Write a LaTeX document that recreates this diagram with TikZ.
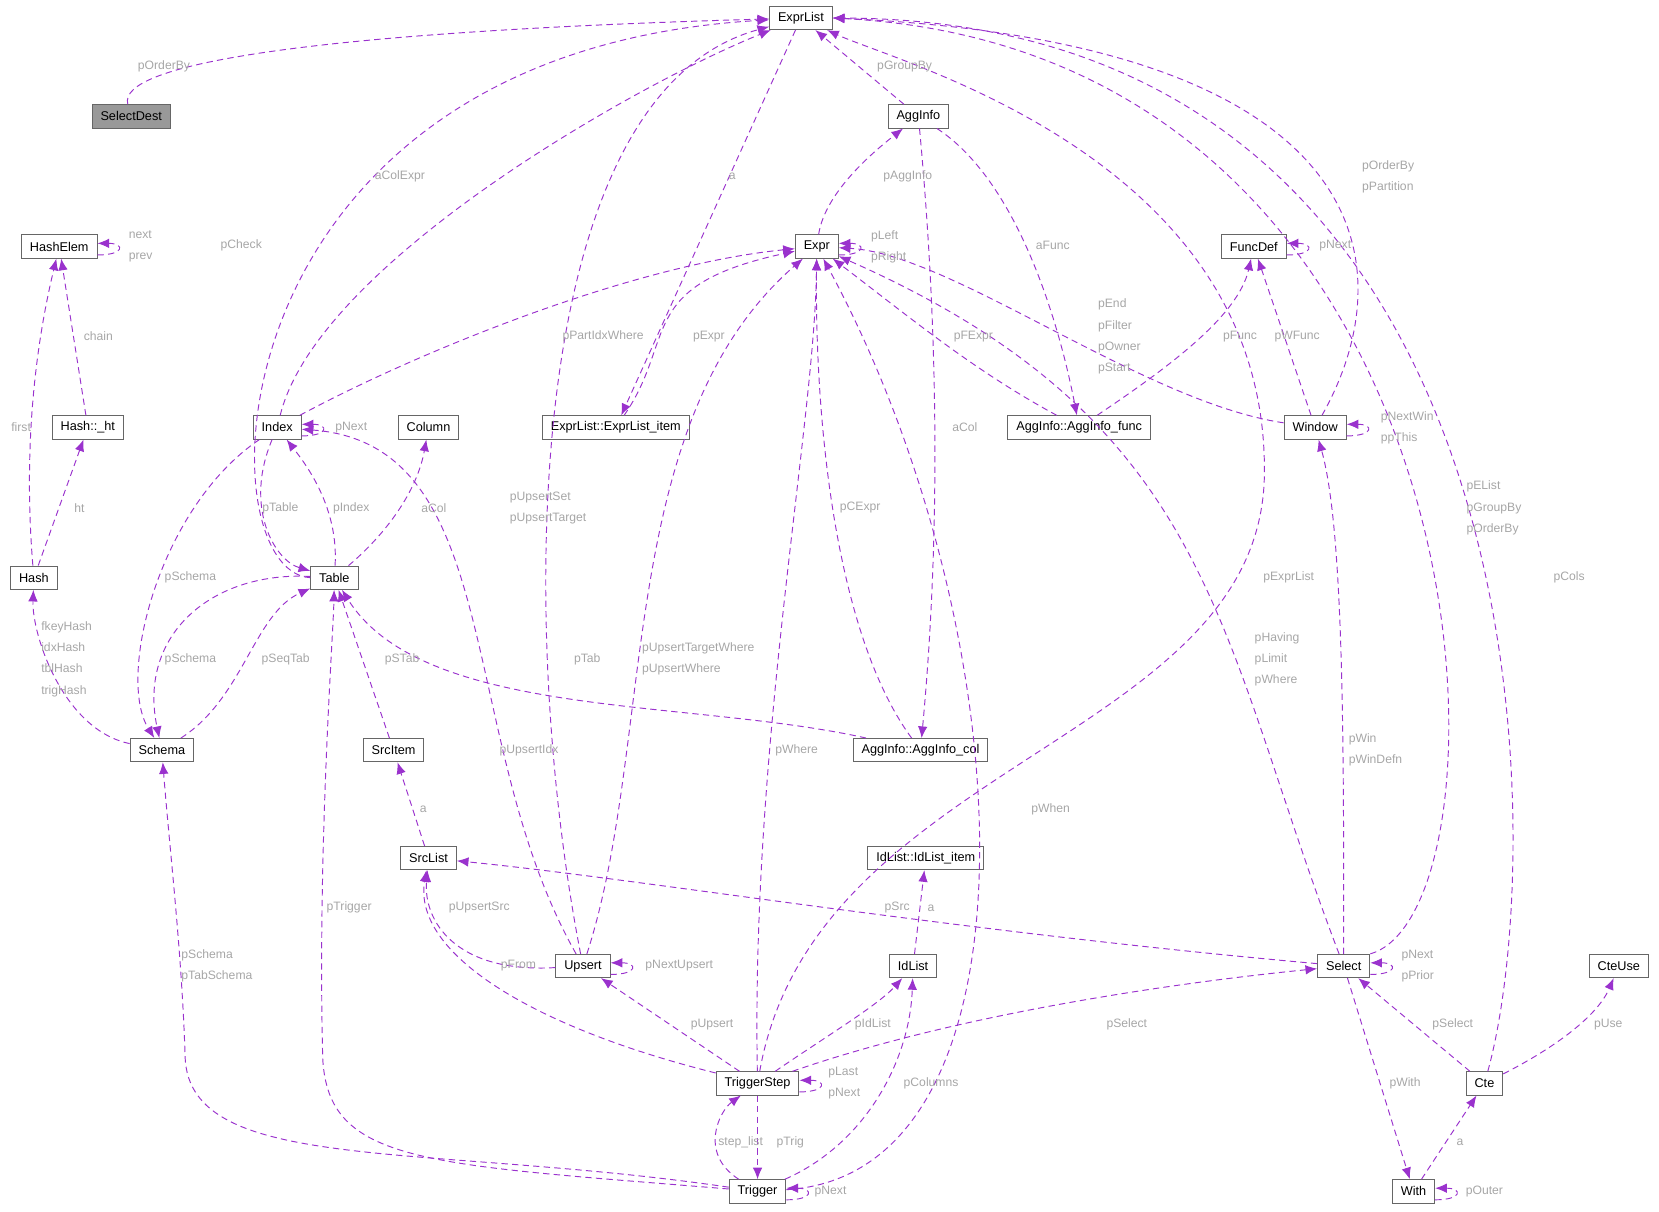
\documentclass[tikz,border=0pt]{standalone}
\usepackage{fontspec}
\setmainfont{Liberation Sans}
\usetikzlibrary{arrows.meta}
\definecolor{edgecol}{HTML}{9A32CD}
\tikzset{
  cls/.style={draw=black!60, line width=0.9pt, fill=white, minimum height=22pt, inner xsep=8pt, inner ysep=2pt, font=\fontsize{12}{14}\selectfont},
  e/.style={draw=edgecol, dashed, dash pattern=on 6pt off 4pt, line width=0.9pt, -{Latex[length=11pt,width=9pt]}},
  lbl/.style={text=black!35, font=\fontsize{11.5}{20}\selectfont, align=left, inner sep=0pt}
}
\newcommand\selfloop[1]{\draw[e] ([yshift=-8pt]#1.east) .. controls +(26,0) and +(26,0) .. ([yshift=3pt]#1.east);}
\begin{document}
\begin{tikzpicture}[x=1pt,y=-1pt]
  \useasboundingbox (0,0) rectangle (1568,1145);
  % classes
  \node[cls] (ExprList) at (757,17) {ExprList};
  \node[cls, fill=black!40] (SelectDest) at (124,110) {SelectDest};
  \node[cls] (AggInfo) at (868,110) {AggInfo};
  \node[cls] (HashElem) at (56,233) {HashElem};
  \node[cls] (Expr) at (772,233) {Expr};
  \node[cls] (FuncDef) at (1185,233) {FuncDef};
  \node[cls] (HashHt) at (83,404) {Hash::\_ht};
  \node[cls] (Index) at (262,404) {Index};
  \node[cls] (Column) at (405,404) {Column};
  \node[cls] (ExprItem) at (582,404) {ExprList::ExprList\_item};
  \node[cls] (AggFunc) at (1020,404) {AggInfo::AggInfo\_func};
  \node[cls] (Window) at (1243,404) {Window};
  \node[cls] (Hash) at (32,546) {Hash};
  \node[cls] (Table) at (316,546) {Table};
  \node[cls] (Schema) at (153,709) {Schema};
  \node[cls] (SrcItem) at (372,709) {SrcItem};
  \node[cls] (AggCol) at (870,709) {AggInfo::AggInfo\_col};
  \node[cls] (SrcList) at (405,811) {SrcList};
  \node[cls] (IdItem) at (875,811) {IdList::IdList\_item};
  \node[cls] (Upsert) at (551,913) {Upsert};
  \node[cls] (IdList) at (863,913) {IdList};
  \node[cls] (Select) at (1270,913) {Select};
  \node[cls] (CteUse) at (1530,913) {CteUse};
  \node[cls] (TriggerStep) at (716,1024) {TriggerStep};
  \node[cls] (Cte) at (1403,1024) {Cte};
  \node[cls] (Trigger) at (716,1126) {Trigger};
  \node[cls] (With) at (1336,1126) {With};

  % to ExprList
  \draw[e] (SelectDest) .. controls (110,60) and (300,30) .. (ExprList);
  \draw[e] (AggInfo) -- (ExprList);
  \draw[e] (Index) .. controls (300,250) and (600,80) .. (ExprList);
  \draw[e] (Table.west) .. controls (190,540) and (195,50) .. (ExprList);
  \draw[e] (Upsert) .. controls (490,600) and (490,90) .. (ExprList);
  \draw[e] (Select.north east) .. controls (1440,860) and (1420,50) .. (ExprList.east);
  \draw[e] (Window) .. controls (1330,250) and (1300,40) .. (ExprList.east);
  \draw[e] (Cte) .. controls (1465,800) and (1465,20) .. (ExprList.east);
  \draw[e] (TriggerStep) .. controls (770,720) and (1190,700) .. (1195,450)
    .. controls (1200,150) and (850,60) .. (ExprList);
  \draw[e] (ExprList) -- (ExprItem);
  % Expr and friends
  \draw[e] (Expr) .. controls (780,180) and (830,140) .. (AggInfo);
  \selfloop{HashElem}
  \draw[e] (HashHt) -- (HashElem);
  \draw[e] (Hash) .. controls (20,400) and (40,300) .. (HashElem);
  \draw[e] (Hash) -- (HashHt);
  \selfloop{Expr}
  \draw[e] (Index) .. controls (400,330) and (600,250) .. (Expr);
  \draw[e] (ExprItem) .. controls (640,320) and (600,270) .. (Expr);
  \draw[e] (AggFunc) .. controls (920,350) and (860,300) .. (Expr);
  \draw[e] (AggCol) .. controls (790,600) and (770,400) .. (Expr);
  \draw[e] (Upsert) .. controls (620,700) and (580,400) .. (Expr);
  \draw[e] (TriggerStep) .. controls (710,700) and (770,400) .. (Expr);
  \draw[e] (Trigger) .. controls (990,1110) and (970,600) .. (Expr);
  \draw[e] (Window) .. controls (1080,380) and (900,240) .. (Expr);
  \draw[e] (Select) .. controls (1150,600) and (1150,400) .. (Expr);
  \draw[e] (AggInfo) .. controls (960,170) and (1000,300) .. (AggFunc);
  \draw[e] (AggInfo) .. controls (895,400) and (880,600) .. (AggCol);
  \selfloop{FuncDef}
  \draw[e] (AggFunc) .. controls (1100,350) and (1170,300) .. (FuncDef);
  \draw[e] (Window) -- (FuncDef);
  \selfloop{Window}
  \draw[e] (Select) .. controls (1270,700) and (1270,500) .. (Window);
  % Index, Table, Schema
  \selfloop{Index}
  \draw[e] (Table) .. controls (320,480) and (290,440) .. (Index);
  \draw[e] (Index) .. controls (230,480) and (260,530) .. (Table);
  \draw[e] (Index) .. controls (150,480) and (110,640) .. (Schema);
  \draw[e] (Table) .. controls (370,500) and (395,460) .. (Column);
  \draw[e] (Schema) .. controls (60,690) and (30,600) .. (Hash);
  \draw[e] (Table) .. controls (200,540) and (130,600) .. (Schema);
  \draw[e] (Schema) .. controls (230,660) and (240,580) .. (Table);
  \draw[e] (SrcItem) -- (Table);
  \draw[e] (AggCol) .. controls (650,660) and (400,680) .. (Table);
  \draw[e] (Upsert) .. controls (430,700) and (480,420) .. (Index);
  \draw[e] (SrcList) -- (SrcItem);
  \draw[e] (Select) .. controls (900,880) and (600,830) .. (SrcList);
  \draw[e] (Upsert) .. controls (430,920) and (400,870) .. (SrcList);
  \draw[e] (TriggerStep) .. controls (500,970) and (390,900) .. (SrcList);
  \selfloop{Upsert}
  \draw[e] (TriggerStep) -- (Upsert);
  \draw[e] (IdList) -- (IdItem);
  \draw[e] (TriggerStep) .. controls (780,980) and (830,950) .. (IdList);
  \draw[e] (Trigger) .. controls (820,1080) and (860,1000) .. (IdList);
  \selfloop{Select}
  \draw[e] (TriggerStep) .. controls (900,960) and (1100,930) .. (Select);
  \draw[e] (Cte) -- (Select);
  \draw[e] (Select) -- (With);
  \draw[e] (With) -- (Cte);
  \selfloop{With}
  \draw[e] (Cte) .. controls (1470,990) and (1510,960) .. (CteUse);
  \selfloop{TriggerStep}
  \draw[e] (Trigger) .. controls (660,1090) and (680,1050) .. (TriggerStep);
  \draw[e] (TriggerStep) -- (Trigger);
  \selfloop{Trigger}
  \draw[e] (Trigger) .. controls (400,1080) and (180,1110) .. (175,1000)
    .. controls (172,900) and (160,800) .. (Schema);
  \draw[e] (Trigger) .. controls (400,1100) and (310,1100) .. (305,1000)
    .. controls (300,800) and (315,600) .. (Table);

  % labels
  \node[lbl] (l1) at (155,63) {pOrderBy};
  \node[lbl] (l2) at (855,63) {pGroupBy};
  \node[lbl] (l3) at (378,167) {aColExpr};
  \node[lbl] (l4) at (228,232) {pCheck};
  \node[lbl] (l5) at (518,480) {pUpsertSet\\pUpsertTarget};
  \node[lbl] (l6) at (1412,480) {pEList\\pGroupBy\\pOrderBy};
  \node[lbl] (l7) at (1312,167) {pOrderBy\\pPartition};
  \node[lbl] (l8) at (1483,546) {pCols};
  \node[lbl] (l9) at (1218,546) {pExprList};
  \node[lbl] (l10) at (692,167) {a};
  \node[lbl] (l11) at (858,167) {pAggInfo};
  \node[lbl] (l12) at (133,233) {next\\prev};
  \node[lbl] (l13) at (93,318) {chain};
  \node[lbl] (l14) at (20,404) {first};
  \node[lbl] (l15) at (75,480) {ht};
  \node[lbl] (l16) at (840,233) {pLeft\\pRight};
  \node[lbl] (l17) at (570,318) {pPartIdxWhere};
  \node[lbl] (l18) at (670,318) {pExpr};
  \node[lbl] (l19) at (920,318) {pFExpr};
  \node[lbl] (l20) at (813,480) {pCExpr};
  \node[lbl] (l21) at (660,623) {pUpsertTargetWhere\\pUpsertWhere};
  \node[lbl] (l22) at (753,709) {pWhere};
  \node[lbl] (l23) at (993,765) {pWhen};
  \node[lbl] (l24) at (1058,318) {pEnd\\pFilter\\pOwner\\pStart};
  \node[lbl] (l25) at (1207,623) {pHaving\\pLimit\\pWhere};
  \node[lbl] (l26) at (995,232) {aFunc};
  \node[lbl] (l27) at (912,404) {aCol};
  \node[lbl] (l28) at (1262,232) {pNext};
  \node[lbl] (l29) at (1172,318) {pFunc};
  \node[lbl] (l30) at (1226,318) {pWFunc};
  \node[lbl] (l31) at (1330,404) {pNextWin\\ppThis};
  \node[lbl] (l32) at (1300,709) {pWin\\pWinDefn};
  \node[lbl] (l33) at (332,404) {pNext};
  \node[lbl] (l34) at (332,480) {pIndex};
  \node[lbl] (l35) at (265,480) {pTable};
  \node[lbl] (l36) at (180,546) {pSchema};
  \node[lbl] (l37) at (410,480) {aCol};
  \node[lbl] (l38) at (63,623) {fkeyHash\\idxHash\\tblHash\\trigHash};
  \node[lbl] (l39) at (180,623) {pSchema};
  \node[lbl] (l40) at (270,623) {pSeqTab};
  \node[lbl] (l41) at (380,623) {pSTab};
  \node[lbl] (l42) at (555,623) {pTab};
  \node[lbl] (l43) at (500,709) {pUpsertIdx};
  \node[lbl] (l44) at (400,765) {a};
  \node[lbl] (l45) at (848,858) {pSrc};
  \node[lbl] (l46) at (453,858) {pUpsertSrc};
  \node[lbl] (l47) at (490,913) {pFrom};
  \node[lbl] (l48) at (642,913) {pNextUpsert};
  \node[lbl] (l49) at (673,968) {pUpsert};
  \node[lbl] (l50) at (880,858) {a};
  \node[lbl] (l51) at (825,968) {pIdList};
  \node[lbl] (l52) at (880,1024) {pColumns};
  \node[lbl] (l53) at (1340,913) {pNext\\pPrior};
  \node[lbl] (l54) at (1065,968) {pSelect};
  \node[lbl] (l55) at (1373,968) {pSelect};
  \node[lbl] (l56) at (1328,1024) {pWith};
  \node[lbl] (l57) at (1380,1080) {a};
  \node[lbl] (l58) at (1403,1126) {pOuter};
  \node[lbl] (l59) at (1520,968) {pUse};
  \node[lbl] (l60) at (798,1024) {pLast\\pNext};
  \node[lbl] (l61) at (700,1080) {step\_list};
  \node[lbl] (l62) at (747,1080) {pTrig};
  \node[lbl] (l63) at (785,1126) {pNext};
  \node[lbl] (l64) at (205,913) {pSchema\\pTabSchema};
  \node[lbl] (l65) at (330,858) {pTrigger};
\end{tikzpicture}
\end{document}
